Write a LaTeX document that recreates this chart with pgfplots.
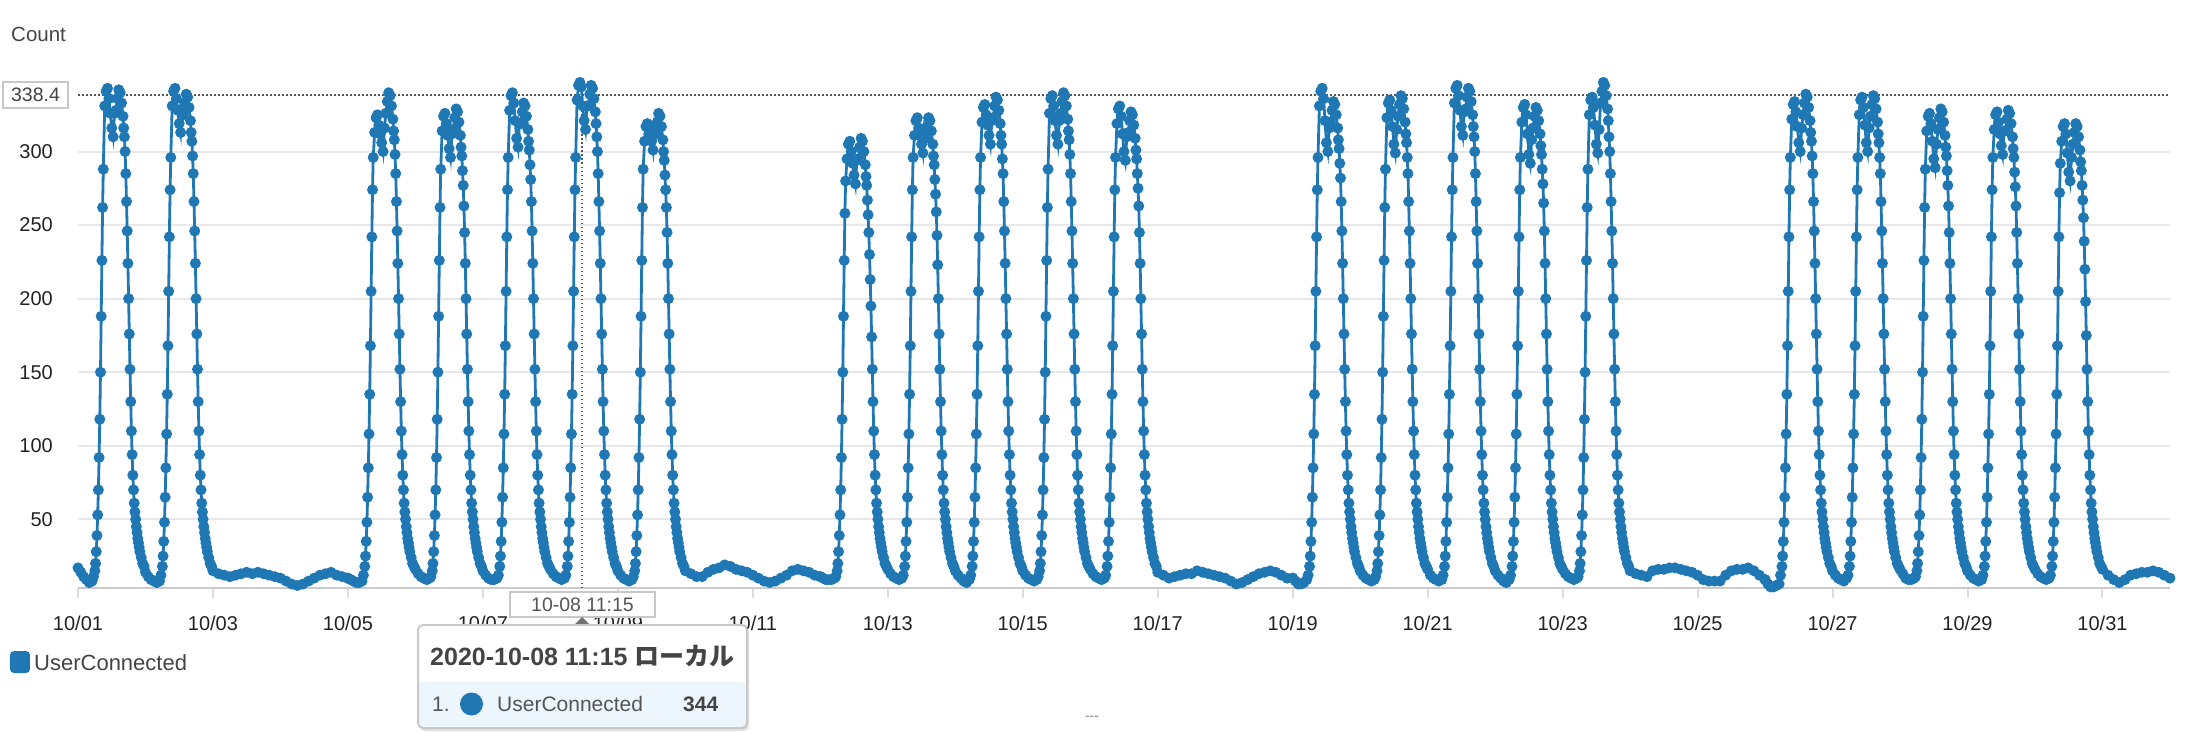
\documentclass[border=0pt]{standalone}
\usepackage{fontspec}
\setmainfont{Liberation Sans}
\newfontfamily\cjk{Noto Sans CJK JP}
\usepackage{pgfplots}
\usepackage{pgfplotstable}
\pgfplotsset{compat=1.18}

\definecolor{cwblue}{HTML}{1F77B4}
\definecolor{cgrid}{HTML}{E8E8E8}
\definecolor{caxis}{HTML}{CBCBCB}
\definecolor{ctick}{HTML}{DDDDDD}
\definecolor{ctxt}{HTML}{222222}
\definecolor{cgray}{HTML}{444444}
\definecolor{cdot}{HTML}{555555}
\definecolor{cbox}{HTML}{C8C8C8}
\definecolor{crow}{HTML}{EEF6FD}

% UserConnected, weekdays: one column per day (column dN = day N after 10/01), h = hour of day
\pgfplotstableread{
h d0 d1 d4 d5 d6 d7 d8 d11 d12 d13 d14 d15 d18 d19 d20 d21 d22 d25 d26 d27 d28 d29
0 17 14 10 16 15 16 15 11 16 15 15 16 10 15 16 15 16 9 15 16 15 16
1 14 11 9 13 12 13 12 10 13 12 12 13 8 12 12 12 13 6 12 13 12 13
2 11 9 8 11 10 11 10 9 11 10 10 11 6 10 10 10 11 4 10 10 10 11
3 9 8 7 10 9 10 9 9 10 8 9 10 6 9 9 8 10 4 9 9 9 10
4 7 7 7 9 9 9 8 9 9 7 8 9 7 8 8 7 9 5 8 9 8 9
5 8 8 8 10 10 10 9 10 10 9 9 10 9 9 9 9 10 6 10 10 9 10
5.5 11 12 12 11 12 12 11 11 12 12 11 12 12 11 12 12 11 12 12 11 12 12
6 15 18 18 15 18 18 15 15 18 18 15 18 18 15 18 18 15 18 18 15 18 18
6.25 20 25 25 20 25 25 20 20 25 25 20 25 25 20 25 25 20 25 25 20 25 25
6.5 28 35 35 28 35 35 28 28 35 35 28 35 35 28 35 35 28 35 35 28 35 35
6.75 39 48 48 39 48 48 39 39 48 48 39 48 48 39 48 48 39 48 48 39 48 48
7 53 65 65 53 65 65 53 53 65 65 53 65 65 53 65 65 53 65 65 53 65 65
7.25 70 85 85 70 85 85 70 70 85 85 70 85 85 70 85 85 70 85 85 70 85 85
7.5 92 108 108 92 108 108 92 92 108 108 92 108 108 92 108 108 92 108 108 92 108 108
7.75 118 135 135 118 135 135 118 118 135 135 118 135 135 118 135 135 118 135 135 118 135 135
8 150 168 168 150 168 168 150 150 168 168 150 168 168 150 168 168 150 168 168 150 168 168
8.25 188 205 205 188 205 205 188 188 205 205 188 205 205 188 205 205 188 205 205 188 205 205
8.5 226 242 242 226 242 242 226 226 242 242 226 242 242 226 242 242 226 242 242 226 242 242
8.75 262 274 274 262 274 274 262 258 274 274 262 274 274 262 274 274 262 274 274 262 274 272
9 288 296 296 288 296 296 288 280 296 296 288 296 296 288 296 296 288 296 296 288 296 292
9.5 331 331 313 314 328 335 307 295 311 320 326 319 331 323 333 320 325 322 325 314 315 307
10 341 341 323 324 338 345 317 305 321 330 336 329 341 333 343 330 335 332 335 324 325 317
10.5 343 343 325 326 340 347 319 307 323 332 338 331 343 335 345 332 337 334 337 326 327 319
11 336 336 318 319 333 344 312 300 316 325 331 324 336 328 338 325 330 327 330 319 320 312
11.5 326 328 312 311 321 331 310 292 311 318 321 312 321 317 328 312 318 317 318 307 312 299
12 316 319 306 302 309 321 307 284 305 311 311 300 306 305 317 298 305 306 306 295 304 286
12.5 310 313 300 296 303 315 301 278 299 305 305 294 300 299 311 292 299 300 300 289 298 280
13 326 329 316 312 319 331 317 294 315 321 321 310 316 315 327 308 315 316 316 305 314 296
13.5 328 325 326 315 319 331 312 295 309 323 326 313 320 324 329 316 333 325 324 315 314 305
14 336 333 334 323 327 339 320 303 317 331 334 321 328 332 337 324 341 333 332 323 322 313
14.5 342 339 340 329 333 345 326 309 323 337 340 327 334 338 343 330 347 339 338 329 328 319
15 340 337 338 327 331 343 324 307 321 335 338 325 332 336 341 328 345 337 336 327 326 317
15.5 333 330 331 320 324 336 317 300 314 328 331 318 325 329 334 321 338 330 329 320 319 310
16 324 321 322 311 315 327 308 291 305 319 322 309 316 320 325 312 329 321 320 311 310 301
16.25 316 313 314 303 307 319 300 283 297 311 314 301 308 312 317 304 321 313 312 303 302 293
16.5 310 307 308 297 301 310 294 277 291 305 308 295 302 306 310 298 310 307 306 297 296 287
16.75 300 297 298 287 291 300 284 267 281 295 298 285 292 296 300 288 300 297 296 287 286 277
17 285 285 285 277 281 285 274 257 271 285 285 275 282 285 285 278 285 285 285 277 276 267
17.25 266 266 266 263 266 266 262 245 259 266 266 263 266 266 266 265 266 266 266 263 263 255
17.5 246 246 246 245 246 246 245 230 243 246 246 245 246 246 246 246 246 246 246 245 245 239
17.75 224 224 224 224 224 224 224 213 223 224 224 224 224 224 224 224 224 224 224 224 224 220
18 200 200 200 200 200 200 200 195 200 200 200 200 200 200 200 200 200 200 200 200 200 198
18.25 176 176 176 176 176 176 176 174 176 176 176 176 176 176 176 176 176 176 176 176 176 175
18.5 152 152 152 152 152 152 152 152 152 152 152 152 152 152 152 152 152 152 152 152 152 152
18.75 130 130 130 130 130 130 130 130 130 130 130 130 130 130 130 130 130 130 130 130 130 130
19 110 110 110 110 110 110 110 110 110 110 110 110 110 110 110 110 110 110 110 110 110 110
19.25 94 94 94 94 94 94 94 94 94 94 94 94 94 94 94 94 94 94 94 94 94 94
19.5 80 80 80 80 80 80 80 80 80 80 80 80 80 80 80 80 80 80 80 80 80 80
19.75 70 70 70 70 70 70 70 70 70 70 70 70 70 70 70 70 70 70 70 70 70 70
20 61 61 61 61 61 61 61 61 61 61 61 61 61 61 61 61 61 61 61 61 61 61
20.25 55 55 55 55 55 55 55 55 55 55 55 55 55 55 55 55 55 55 55 55 55 55
20.5 50 50 50 50 50 50 50 50 50 50 50 50 50 50 50 50 50 50 50 50 50 50
20.75 45 45 45 45 45 45 45 45 45 45 45 45 45 45 45 45 45 45 45 45 45 45
21 41 41 41 41 41 41 41 41 41 41 41 41 41 41 41 41 41 41 41 41 41 41
21.25 37 37 37 37 37 37 37 37 37 37 37 37 37 37 37 37 37 37 37 37 37 37
21.5 34 34 34 34 34 34 34 34 34 34 34 34 34 34 34 34 34 34 34 34 34 34
21.75 31 31 31 31 31 31 31 31 31 31 31 31 31 31 31 31 31 31 31 31 31 31
22 28 28 28 28 28 28 28 28 28 28 28 28 28 28 28 28 28 28 28 28 28 28
22.5 24 24 24 24 24 24 24 24 24 24 24 24 24 24 24 24 24 24 24 24 24 24
23 20 20 20 20 20 20 20 20 20 20 20 20 20 20 20 20 20 20 20 20 20 20
23.5 18 18 18 18 18 18 18 18 18 18 18 18 18 18 18 18 18 18 18 18 18 18
}\weekdays

% weekends (two days each, h = hours from saturday 00:00); 10/31 is a single day
\pgfplotstableread{
h w2 w9 w16 w23 w30
0 15 15 14 15 16
2 13 13 12 13 12
4 12 11 10 12 9
6 11 11 11 11 7
8 12 14 12 15 9
10 13 16 13 16 12
12 14 17 13 16 13
14 13 19 15 17 14
16 14 18 14 17 14
18 13 16 13 16 15
20 12 15 12 15 14
22 11 14 11 14 12
24 10 12 10 12 10
26 8 10 8 9 nan
28 6 8 6 8 nan
30 5 7 7 8 nan
32 6 8 9 8 nan
34 8 10 11 12 nan
36 10 12 13 15 nan
38 12 15 14 16 nan
40 13 16 15 16 nan
42 14 15 14 17 nan
44 12 14 12 15 nan
46 11 12 10 12 nan
48 10 11 10 9 nan
}\weekends

\tikzset{ser/.style={color=cwblue, line width=2.8pt, mark=*, mark size=4pt,
  mark options={draw=none, fill=cwblue}}}

\begin{document}
\begin{tikzpicture}
\useasboundingbox (-78pt,-144pt) rectangle (2117pt,588pt);
\begin{axis}[
  at={(0pt,0pt)}, anchor=south west,
  scale only axis, width=2092pt, height=510pt,
  xmin=0, xmax=744, ymin=3.3, ymax=350,
  axis x line*=bottom, axis y line*=left,
  x axis line style={draw=caxis, line width=2.5pt},
  y axis line style={draw=none},
  xtick={0,48,...,720},
  xticklabels={10/01,10/03,10/05,10/07,10/09,10/11,10/13,10/15,10/17,10/19,10/21,10/23,10/25,10/27,10/29,10/31},
  ytick={50,100,...,300},
  tick align=outside, major tick length=10pt,
  xtick style={draw=ctick, line width=2pt},
  ytick style={draw=none},
  ymajorgrids, major grid style={draw=cgrid, line width=2pt},
  /pgf/number format/assume math mode=true,
  tick label style={font=\fontsize{20}{24}\selectfont, text=ctxt},
  xticklabel style={anchor=base, yshift=-32pt},
  yticklabel style={anchor=east, inner sep=0pt, xshift=-15pt},
  clip=false,
]
\draw[cdot, line width=1.2pt, dash pattern=on 1.5pt off 2.5pt] (axis cs:179.25,3.3) -- (axis cs:179.25,350);
\draw[cdot, line width=2pt, dash pattern=on 2pt off 2pt] (axis cs:0,338.4) -- (axis cs:744,338.4);
\pgfplotsinvokeforeach{0,1,4,5,6,7,8,11,12,13,14,15,18,19,20,21,22,25,26,27,28,29}{
  \addplot[ser] table[x expr=\thisrow{h}+24*#1, y=d#1]{\weekdays};
}
\pgfplotsinvokeforeach{2,9,16,23,30}{
  \addplot[ser] table[x expr=\thisrow{h}+24*#1, y=w#1]{\weekends};
}
\end{axis}

% y axis title and current value box
\node[anchor=base west, font=\fontsize{20.5}{24}\selectfont, text=cgray, inner sep=0pt] at (-67pt,546pt) {Count};
\draw[cbox, line width=2pt, fill=white] (-75pt,480pt) rectangle (-10pt,506pt);
\node[font=\fontsize{19.5}{23}\selectfont, text=cgray] at (-42.5pt,493pt) {338.4};

% legend
\fill[cwblue, rounded corners=4pt] (-68pt,-85pt) rectangle (-48pt,-63pt);
\node[anchor=base west, font=\fontsize{22}{26}\selectfont, text=cgray, inner sep=0pt] at (-44pt,-82pt) {UserConnected};

% hover time label
\draw[cbox, line width=1.5pt, fill=white] (432pt,-29pt) rectangle (577pt,-4pt);
\node[font=\fontsize{19.5}{23}\selectfont, text=cdot] at (504.5pt,-16.5pt) {10-08 11:15};
\fill[gray!90!black] (504pt,-29pt) -- (512pt,-37pt) -- (496pt,-37pt) -- cycle;

% tooltip
\fill[black, opacity=0.12, rounded corners=6pt] (341pt,-143pt) rectangle (671pt,-39pt);
\fill[white, rounded corners=5pt] (340pt,-140pt) rectangle (669pt,-37pt);
\begin{scope}
  \clip[rounded corners=5pt] (340pt,-140pt) rectangle (669pt,-37pt);
  \fill[crow] (340pt,-140pt) rectangle (669pt,-94pt);
\end{scope}
\draw[cbox, line width=2pt, rounded corners=5pt] (340pt,-140pt) rectangle (669pt,-37pt);
\node[anchor=base west, font=\fontsize{25}{30}\selectfont\bfseries, text=cgray, inner sep=0pt] at (352pt,-77pt) {2020-10-08 11:15 {\cjk ローカル}};
\node[anchor=base west, font=\fontsize{21}{25}\selectfont, text=cdot, inner sep=0pt] at (354pt,-123pt) {1.};
\fill[cwblue] (393.5pt,-116pt) circle (11.5pt);
\node[anchor=base west, font=\fontsize{21}{25}\selectfont, text=cdot, inner sep=0pt] at (419pt,-123pt) {UserConnected};
\node[anchor=base west, font=\fontsize{21}{25}\selectfont\bfseries, text=cgray, inner sep=0pt] at (605pt,-123pt) {344};

% resize grip
\node[font=\fontsize{14}{14}\selectfont, text=gray] at (1014pt,-130pt) {-{}-{}-};
\end{tikzpicture}
\end{document}
